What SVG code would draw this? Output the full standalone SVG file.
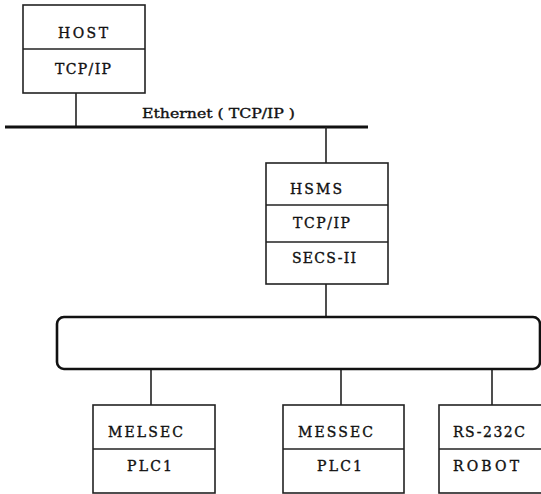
<svg xmlns="http://www.w3.org/2000/svg" width="541" height="494" viewBox="0 0 541 494">
<style>
.box{fill:#fff;stroke:#222;stroke-width:1.6}
.ln{stroke:#222;stroke-width:1.6;fill:none}
.t{font-family:"DejaVu Serif","Liberation Serif",serif;font-size:14px;fill:#111;stroke:#111;stroke-width:0.35}
</style>
<rect width="541" height="494" fill="#fff"/>
<g id="connectors">
<line class="ln" x1="76" y1="93" x2="76" y2="127"/>
<line x1="5" y1="127" x2="368" y2="127" stroke="#111" stroke-width="3.2"/>
<line class="ln" x1="326" y1="127" x2="326" y2="163"/>
<line class="ln" x1="326" y1="284" x2="326" y2="317"/>
<line class="ln" x1="151" y1="369" x2="151" y2="405"/>
<line class="ln" x1="341" y1="369" x2="341" y2="405"/>
<line class="ln" x1="492" y1="369" x2="492" y2="405"/>
<text class="t" x="142" y="118" textLength="153" lengthAdjust="spacingAndGlyphs" style="font-size:13px">Ethernet ( TCP/IP )</text>
</g>
<g id="host">
<rect class="box" x="23" y="5" width="122" height="88"/>
<line class="ln" x1="23" y1="49" x2="145" y2="49"/>
<text class="t" x="58" y="38" textLength="50" lengthAdjust="spacing">HOST</text>
<text class="t" x="55" y="74" textLength="56" lengthAdjust="spacing">TCP/IP</text>
</g>
<g id="hsms">
<rect class="box" x="266" y="163" width="122" height="121"/>
<line class="ln" x1="266" y1="205" x2="388" y2="205"/>
<line class="ln" x1="266" y1="242" x2="388" y2="242"/>
<text class="t" x="290" y="194" textLength="52" lengthAdjust="spacing">HSMS</text>
<text class="t" x="293" y="228" textLength="57" lengthAdjust="spacing">TCP/IP</text>
<text class="t" x="292" y="263" textLength="64" lengthAdjust="spacing">SECS-II</text>
</g>
<g id="bus">
<rect x="57" y="317" width="483" height="52" rx="7" fill="#fff" stroke="#111" stroke-width="2.6"/>
</g>
<g id="melsec">
<rect class="box" x="93" y="405" width="122" height="88"/>
<line class="ln" x1="93" y1="449" x2="215" y2="449"/>
<text class="t" x="108" y="437" textLength="75" lengthAdjust="spacing">MELSEC</text>
<text class="t" x="127" y="471" textLength="45" lengthAdjust="spacing">PLC1</text>
</g>
<g id="messec">
<rect class="box" x="283" y="405" width="121" height="88"/>
<line class="ln" x1="283" y1="449" x2="404" y2="449"/>
<text class="t" x="298" y="437" textLength="75" lengthAdjust="spacing">MESSEC</text>
<text class="t" x="317" y="471" textLength="45" lengthAdjust="spacing">PLC1</text>
</g>
<g id="robot">
<rect class="box" x="439" y="405" width="110" height="88"/>
<line class="ln" x1="439" y1="449" x2="549" y2="449"/>
<text class="t" x="453" y="437" textLength="72" lengthAdjust="spacing">RS-232C</text>
<text class="t" x="453" y="471" textLength="66" lengthAdjust="spacing">ROBOT</text>
</g>
</svg>
